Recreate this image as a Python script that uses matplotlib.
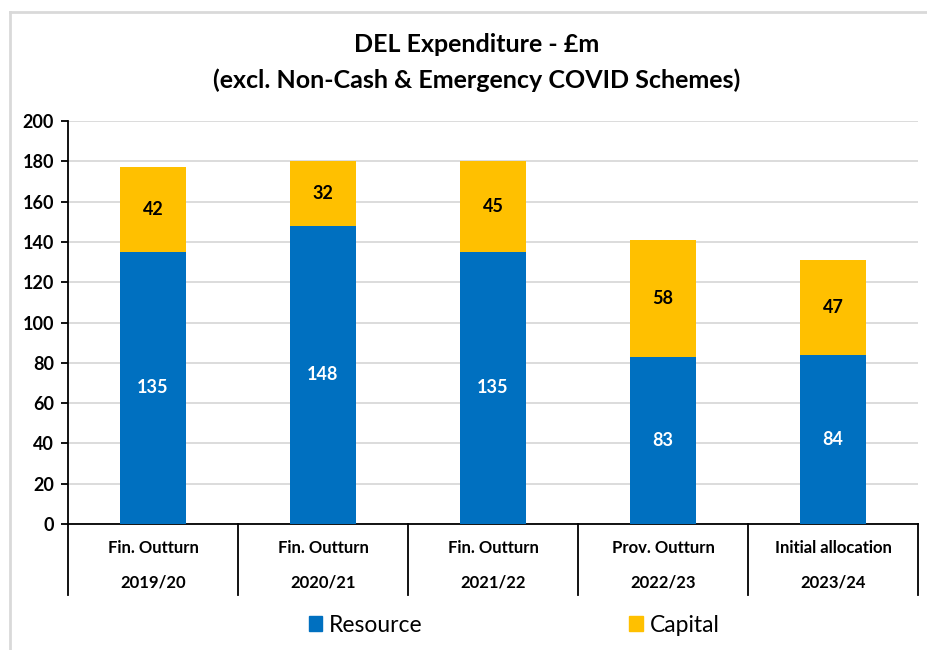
import numpy as np
import matplotlib.pyplot as plt
from matplotlib.lines import Line2D
from matplotlib.patches import Patch

plt.rcParams['font.family'] = ['Lato', 'DejaVu Sans']

stages = ["Fin. Outturn", "Fin. Outturn", "Fin. Outturn", "Prov. Outturn", "Initial allocation"]
years = ["2019/20", "2020/21", "2021/22", "2022/23", "2023/24"]
resource = [135, 148, 135, 83, 84]
capital = [42, 32, 45, 58, 47]

blue = "#0070C0"
yellow = "#FFC000"

fig = plt.figure(figsize=(9.28, 6.5), dpi=100)
ax = fig.add_axes([68 / 928, 1 - 524 / 650, 850 / 928, 403 / 650])

x = np.arange(len(years))
w = 0.39
ax.bar(x, resource, w, color=blue, zorder=3)
ax.bar(x, capital, w, bottom=resource, color=yellow, zorder=3)

for i in range(len(x)):
    ax.text(x[i], resource[i] / 2, str(resource[i]), ha="center", va="center",
            color="white", fontsize=13, fontweight="bold", zorder=4)
    ax.text(x[i], resource[i] + capital[i] / 2, str(capital[i]), ha="center", va="center",
            color="black", fontsize=13, fontweight="bold", zorder=4)

ax.set_xlim(-0.5, len(x) - 0.5)
ax.set_ylim(0, 200)
ax.set_yticks(range(0, 201, 20))
ax.yaxis.grid(True, color="#d9d9d9", linewidth=1.3, zorder=0)
ax.set_xticks([])
for s in ["top", "right"]:
    ax.spines[s].set_visible(False)
ax.spines["left"].set_linewidth(1.3)
ax.spines["bottom"].set_linewidth(1.3)
ax.tick_params(axis="y", length=5, width=1.3, labelsize=13, pad=5)
for lbl in ax.get_yticklabels():
    lbl.set_fontweight("bold")

# two-level category axis
trans = ax.get_xaxis_transform()
for b in np.arange(-0.5, len(x), 1.0):
    ax.add_line(Line2D([b, b], [0, -71 / 403], transform=trans, color="black",
                       linewidth=1.3, clip_on=False))
for i in range(len(x)):
    ax.text(x[i], -24 / 403, stages[i], transform=trans, ha="center", va="center",
            fontsize=12, fontweight="bold")
    ax.text(x[i], -58 / 403, years[i], transform=trans, ha="center", va="center",
            fontsize=12, fontweight="bold")

fig.text(477 / 928, 1 - 45 / 650, "DEL Expenditure - £m", ha="center", va="center",
         fontsize=18, fontweight="bold")
fig.text(477 / 928, 1 - 80 / 650, "(excl. Non-Cash & Emergency COVID Schemes)", ha="center",
         va="center", fontsize=18, fontweight="bold")

fig.legend(handles=[Patch(color=blue, label="Resource"), Patch(color=yellow, label="Capital")],
           loc="center", bbox_to_anchor=(514 / 928, 1 - 625 / 650), ncol=2, frameon=False,
           fontsize=16.5, handlelength=0.6, handleheight=0.6, handletextpad=0.3,
           columnspacing=9.0)

# outer chart border
fig.add_artist(Line2D([10 / 928, 10 / 928], [0, 1 - 12 / 650], transform=fig.transFigure,
                      color="#d9d9d9", linewidth=2))
fig.add_artist(Line2D([10 / 928, 1], [1 - 12 / 650, 1 - 12 / 650], transform=fig.transFigure,
                      color="#d9d9d9", linewidth=2))

fig.savefig("out.png", dpi=100)
